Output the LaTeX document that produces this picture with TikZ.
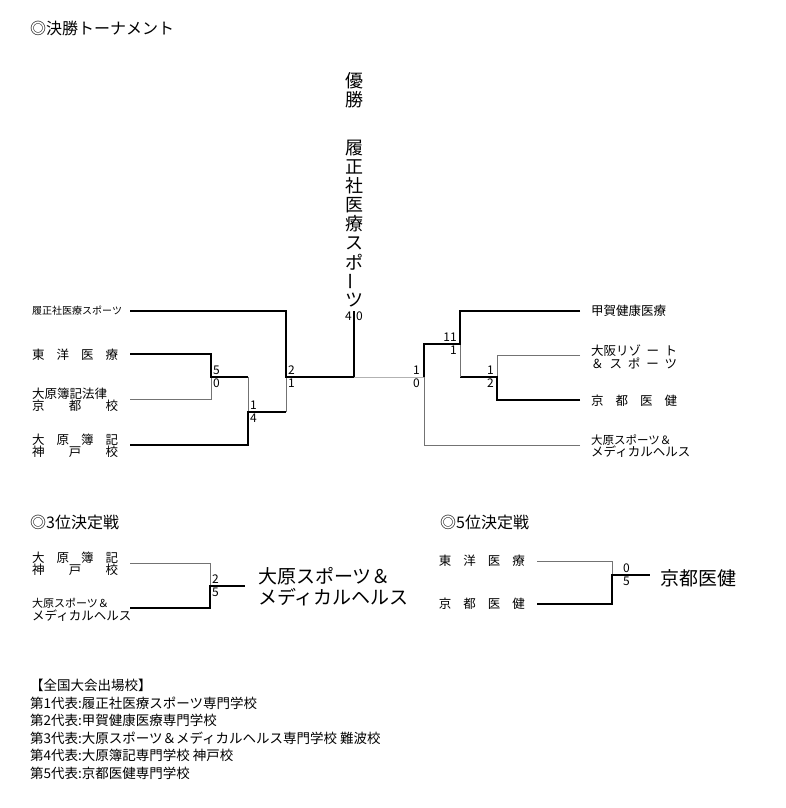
\documentclass[tikz,border=0pt]{standalone}
\usepackage{fontspec}
\setmainfont{Noto Sans CJK JP}
\newcommand{\sprd}[2]{\makebox[#1][s]{#2}}
\begin{document}
\begin{tikzpicture}[x=1pt,y=-1pt,
  win/.style={line width=2.3pt,black},
  lose/.style={line width=0.8pt,black!55},
  gmid/.style={line width=1pt,black!30},
  sc/.style={font=\fontsize{12}{13}\selectfont,inner sep=1pt},
  nm/.style={font=\fontsize{12.5}{12.5}\selectfont,anchor=west,align=left,inner sep=0pt},
  hd/.style={font=\fontsize{16}{17}\selectfont,anchor=west,inner sep=0pt},
  vt/.style={font=\fontsize{18}{19}\selectfont,inner sep=0pt}]
\useasboundingbox (0,0) rectangle (786,808);
\node[hd] (h1) at (30,28) {◎決勝トーナメント};
\node[hd] (h3) at (30,522) {◎3位決定戦};
\node[hd] (h5) at (440,522) {◎5位決定戦};
% vertical winner text
\node[vt] (v1) at (354,81) {優};
\node[vt] (v2) at (354,100) {勝};
\foreach \c [count=\i] in {履,正,社,医,療,ス,ポ} {\node[vt] at (354,129+19*\i) {\c};}
\node[vt,rotate=90] at (354,281) {ー};
\node[vt] at (354,300) {ツ};
% left names
\node[nm] (a1) at (32,311) {\fontsize{10}{10}\selectfont 履正社医療スポーツ};
\node[nm] (a2) at (32,355) {\sprd{86pt}{東\hfil 洋\hfil 医\hfil 療}};
\node[nm] (a3) at (32,400) {\sprd{86pt}{大原簿記法律}\\\sprd{86pt}{京\hfil 都\hfil 校}};
\node[nm] (a4) at (32,446) {\sprd{86pt}{大\hfil 原\hfil 簿\hfil 記}\\\sprd{86pt}{神\hfil 戸\hfil 校}};
% right names
\node[nm] (b1) at (591,311) {\sprd{86pt}{甲賀健康医療}};
\node[nm] (b2) at (591,357) {\sprd{86pt}{大阪リゾ\hfil ー\hfil ト}\\\sprd{86pt}{＆\hfil ス\hfil ポ\hfil ー\hfil ツ}};
\node[nm] (b3) at (591,401) {\sprd{86pt}{京\hfil 都\hfil 医\hfil 健}};
\node[nm] (b4) at (591,446) {\fontsize{11.5}{12.5}\selectfont 大原スポーツ＆\\メディカルヘルス};
% left bracket
\coordinate (L1) at (130,311); \coordinate (L2) at (130,354);
\coordinate (L3) at (130,399); \coordinate (L4) at (130,445);
\draw[lose] (L3) -| (211,377);
\draw[win] (L2) -| (211,377) -- (248,377);
\draw[lose] (248,377) -- (248,412);
\draw[win] (L4) -| (248,412) -- (286,412);
\draw[lose] (286,412) -- (286,377);
\draw[win] (L1) -| (286,377) -- (354,377) -- (354,311);
\draw[gmid] (354,377) -- (424,377);
% right bracket
\coordinate (R1) at (580,311); \coordinate (R2) at (580,355);
\coordinate (R3) at (580,400); \coordinate (R4) at (580,445);
\draw[lose] (R2) -| (497,377);
\draw[win] (R3) -| (497,377) -- (460,377);
\draw[lose] (460,377) -- (460,344);
\draw[win] (R1) -| (460,344) -- (424,344) -- (424,377);
\draw[lose] (R4) -| (424,377);
% scores
\node[sc,anchor=east] at (353,316) {4};
\node[sc,anchor=west] at (355,316) {0};
\node[sc,anchor=south west] at (212,376) {5};
\node[sc,anchor=north west] at (212,378) {0};
\node[sc,anchor=south west] at (249,411) {1};
\node[sc,anchor=north west] at (249,413) {4};
\node[sc,anchor=south west] at (287,376) {2};
\node[sc,anchor=north west] at (287,378) {1};
\node[sc,anchor=south east] at (421,376) {1};
\node[sc,anchor=north east] at (421,378) {0};
\node[sc,anchor=south east] at (458,343) {11};
\node[sc,anchor=north east] at (458,345) {1};
\node[sc,anchor=south east] at (495,376) {1};
\node[sc,anchor=north east] at (495,378) {2};
% 3rd place
\node[nm] (c1) at (32,564) {\sprd{86pt}{大\hfil 原\hfil 簿\hfil 記}\\\sprd{86pt}{神\hfil 戸\hfil 校}};
\node[nm] (c2) at (32,610) {\fontsize{11}{12.5}\selectfont 大原スポーツ＆\\メディカルヘルス};
\draw[lose] (130,563) -| (210,586);
\draw[win] (130,608) -| (210,586) -- (245,586);
\node[sc,anchor=south west] at (211,585) {2};
\node[sc,anchor=north west] at (211,587) {5};
\node[font=\fontsize{19}{21}\selectfont,anchor=west,align=left,inner sep=0pt] (c3) at (258,587) {大原スポーツ＆\\メディカルヘルス};
% 5th place
\node[nm,anchor=east] (d1) at (525,561) {\sprd{86pt}{東\hfil 洋\hfil 医\hfil 療}};
\node[nm,anchor=east] (d2) at (525,604) {\sprd{86pt}{京\hfil 都\hfil 医\hfil 健}};
\draw[lose] (537,561) -| (612,575);
\draw[win] (537,604) -| (612,575) -- (650,575);
\node[sc,anchor=south west] at (622,574) {0};
\node[sc,anchor=north west] at (622,576) {5};
\node[font=\fontsize{19}{20}\selectfont,anchor=west,inner sep=0pt] (d3) at (660,578) {京都医健};
% list
\node[font=\fontsize{13.5}{17.5}\selectfont,anchor=north west,align=left,inner sep=0pt] (lst) at (30,679) {【全国大会出場校】\\第1代表:履正社医療スポーツ専門学校\\第2代表:甲賀健康医療専門学校\\第3代表:大原スポーツ＆メディカルヘルス専門学校 難波校\\第4代表:大原簿記専門学校 神戸校\\第5代表:京都医健専門学校};
\end{tikzpicture}
\end{document}
